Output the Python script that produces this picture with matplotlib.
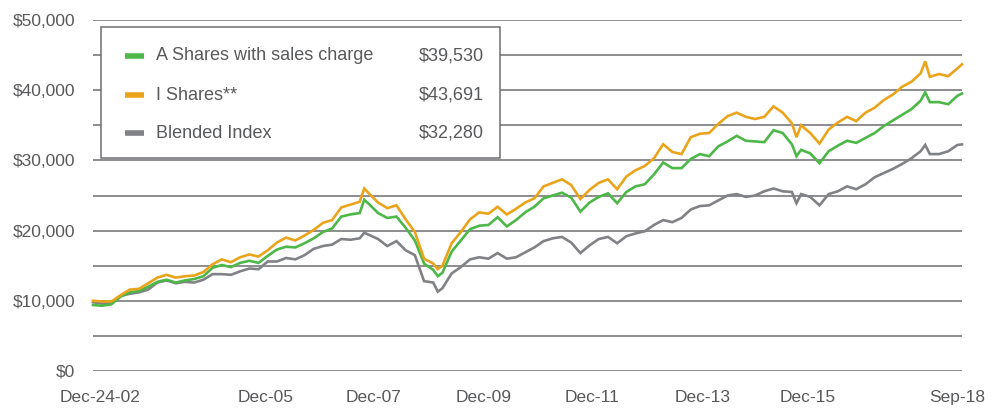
import numpy as np
import matplotlib
matplotlib.use("Agg")
import matplotlib.pyplot as plt
from matplotlib.patches import Rectangle
from matplotlib.lines import Line2D

plt.rcParams['font.family'] = ['Liberation Sans', 'DejaVu Sans']

# months since Dec-2002 (roughly every 2 months)
months = [0, 2, 4, 6, 8, 10, 12, 14, 16, 18,
          20, 22, 24, 26, 28, 30, 32, 34, 36, 38,
          40, 42, 44, 46, 48, 50, 52, 54, 56, 58,
          59, 60, 62, 64, 66, 68, 70, 72, 74, 75,
          76, 78, 80, 82, 84, 86, 88, 90, 92, 94,
          96, 98, 100, 102, 104, 106, 108, 110, 112, 114,
          116, 118, 120, 122, 124, 126, 128, 130, 132, 134,
          136, 138, 140, 142, 144, 146, 148, 150, 152, 153,
          154, 156, 158, 160, 162, 164, 166, 168, 170, 172,
          174, 176, 178, 180, 181, 182, 184, 186, 188, 189]

# values in $ thousands
a_shares = [9.4, 9.3, 9.5, 10.6, 11.2, 11.4, 12.0, 12.7, 13.0, 12.6,
            12.9, 13.1, 13.5, 14.7, 15.1, 14.8, 15.4, 15.7, 15.4, 16.4,
            17.3, 17.7, 17.6, 18.2, 18.9, 19.8, 20.3, 22.0, 22.3, 22.5,
            24.4, 23.8, 22.5, 21.8, 22.0, 20.4, 18.6, 15.3, 14.4, 13.5,
            14.0, 17.0, 18.6, 20.2, 20.7, 20.8, 21.9, 20.6, 21.5, 22.6,
            23.4, 24.6, 25.0, 25.4, 24.7, 22.7, 24.0, 24.8, 25.3, 23.9,
            25.5, 26.3, 26.6, 28.0, 29.7, 28.9, 28.9, 30.2, 30.9, 30.6,
            32.0, 32.7, 33.5, 32.8, 32.7, 32.6, 34.3, 33.9, 32.3, 30.6,
            31.5, 31.0, 29.6, 31.3, 32.1, 32.8, 32.5, 33.2, 33.9, 34.9,
            35.7, 36.5, 37.3, 38.5, 39.7, 38.3, 38.3, 38.0, 39.2, 39.53]

i_shares = [10.0, 9.9, 9.9, 10.8, 11.6, 11.7, 12.5, 13.3, 13.7, 13.3,
            13.5, 13.6, 14.1, 15.2, 15.9, 15.5, 16.2, 16.6, 16.3, 17.2,
            18.3, 19.0, 18.6, 19.3, 20.1, 21.1, 21.5, 23.3, 23.7, 24.1,
            26.0, 25.3, 24.0, 23.2, 23.6, 21.6, 19.8, 16.0, 15.3, 14.5,
            15.0, 18.2, 19.8, 21.6, 22.6, 22.4, 23.4, 22.3, 23.1, 24.0,
            24.6, 26.3, 26.8, 27.3, 26.5, 24.5, 25.8, 26.8, 27.3, 25.9,
            27.7, 28.6, 29.2, 30.3, 32.3, 31.2, 30.9, 33.3, 33.8, 33.9,
            35.2, 36.3, 36.8, 36.2, 35.9, 36.2, 37.7, 36.8, 35.3, 33.3,
            35.0, 33.9, 32.4, 34.4, 35.4, 36.2, 35.6, 36.8, 37.5, 38.6,
            39.4, 40.5, 41.2, 42.4, 44.1, 41.9, 42.3, 42.0, 43.1, 43.691]

blended = [9.8, 9.6, 9.7, 10.7, 11.0, 11.2, 11.6, 12.6, 12.9, 12.5,
           12.7, 12.6, 13.0, 13.8, 13.8, 13.7, 14.2, 14.6, 14.5, 15.6,
           15.6, 16.1, 15.9, 16.5, 17.4, 17.8, 18.0, 18.8, 18.7, 18.9,
           19.7, 19.4, 18.8, 17.8, 18.5, 17.2, 16.5, 12.8, 12.6, 11.3,
           11.8, 13.9, 14.8, 15.9, 16.2, 16.0, 16.8, 16.0, 16.2, 16.9,
           17.6, 18.5, 18.9, 19.1, 18.3, 16.8, 17.9, 18.8, 19.1, 18.2,
           19.2, 19.6, 19.9, 20.8, 21.5, 21.2, 21.8, 23.0, 23.5, 23.6,
           24.3, 25.0, 25.2, 24.8, 25.0, 25.6, 26.0, 25.6, 25.5, 23.9,
           25.2, 24.8, 23.6, 25.2, 25.6, 26.3, 25.9, 26.6, 27.6, 28.2,
           28.8, 29.5, 30.3, 31.3, 32.2, 30.9, 30.9, 31.3, 32.2, 32.28]

series_names = ["A Shares with sales charge", "I Shares**", "Blended Index"]
series_final = ["$39,530", "$43,691", "$32,280"]
colors = ["#4db748", "#e9a41c", "#808285"]

xtick_labels = ["Dec-24-02", "Dec-05", "Dec-07", "Dec-09", "Dec-11", "Dec-13", "Dec-15", "Sep-18"]
xtick_pos = [1.5, 37.5, 61, 85, 108.5, 132.5, 155.5, 188]

text_col = "#58595b"

fig = plt.figure(figsize=(10, 4.13), dpi=100)
ax = fig.add_axes([0.093, 1 - 371 / 413, 0.869, 351 / 413])

months = np.array(months)
for vals, c, z in zip([blended, a_shares, i_shares], [colors[2], colors[0], colors[1]], [3, 4, 5]):
    ax.plot(months, np.array(vals) * 1000, color=c, lw=1.9, zorder=z, clip_on=False,
            solid_joinstyle='miter')

ax.set_xlim(0, 189)
ax.set_ylim(0, 50000)
ax.set_yticks(np.arange(0, 50001, 5000))
ax.set_yticklabels(["${:,.0f}".format(v) if v % 10000 == 0 else "" for v in np.arange(0, 50001, 5000)])
ax.set_xticks(xtick_pos)
ax.set_xticklabels(xtick_labels)
ax.tick_params(length=0, labelsize=12.5, labelcolor=text_col)
ax.tick_params(axis='y', pad=13)
ax.tick_params(axis='x', pad=14)
ax.grid(axis='y', color="#6d6e71", lw=1.1)
ax.set_axisbelow(True)
for s in ax.spines.values():
    s.set_visible(False)

# legend box drawn in figure pixel space
def fx(px):
    return px / 1000

def fy(py):
    return 1 - py / 413

box = Rectangle((fx(101), fy(158)), fx(500) - fx(101), fy(27) - fy(158), transform=fig.transFigure,
                facecolor="white", edgecolor="#6d6e71", lw=1.1, zorder=10)
fig.add_artist(box)
rows_y = [56, 95, 133]
for name, val, c, ry in zip(series_names, series_final, colors, rows_y):
    fig.add_artist(Line2D([fx(125), fx(144)], [fy(ry), fy(ry)], transform=fig.transFigure,
                          color=c, lw=4, solid_capstyle='butt', zorder=11))
    fig.text(fx(156), fy(ry), name, fontsize=13, color=text_col, va='center', ha='left', zorder=11)
    fig.text(fx(484), fy(ry), val, fontsize=13, color=text_col, va='center', ha='right', zorder=11)

fig.savefig("out.png", dpi=100)
